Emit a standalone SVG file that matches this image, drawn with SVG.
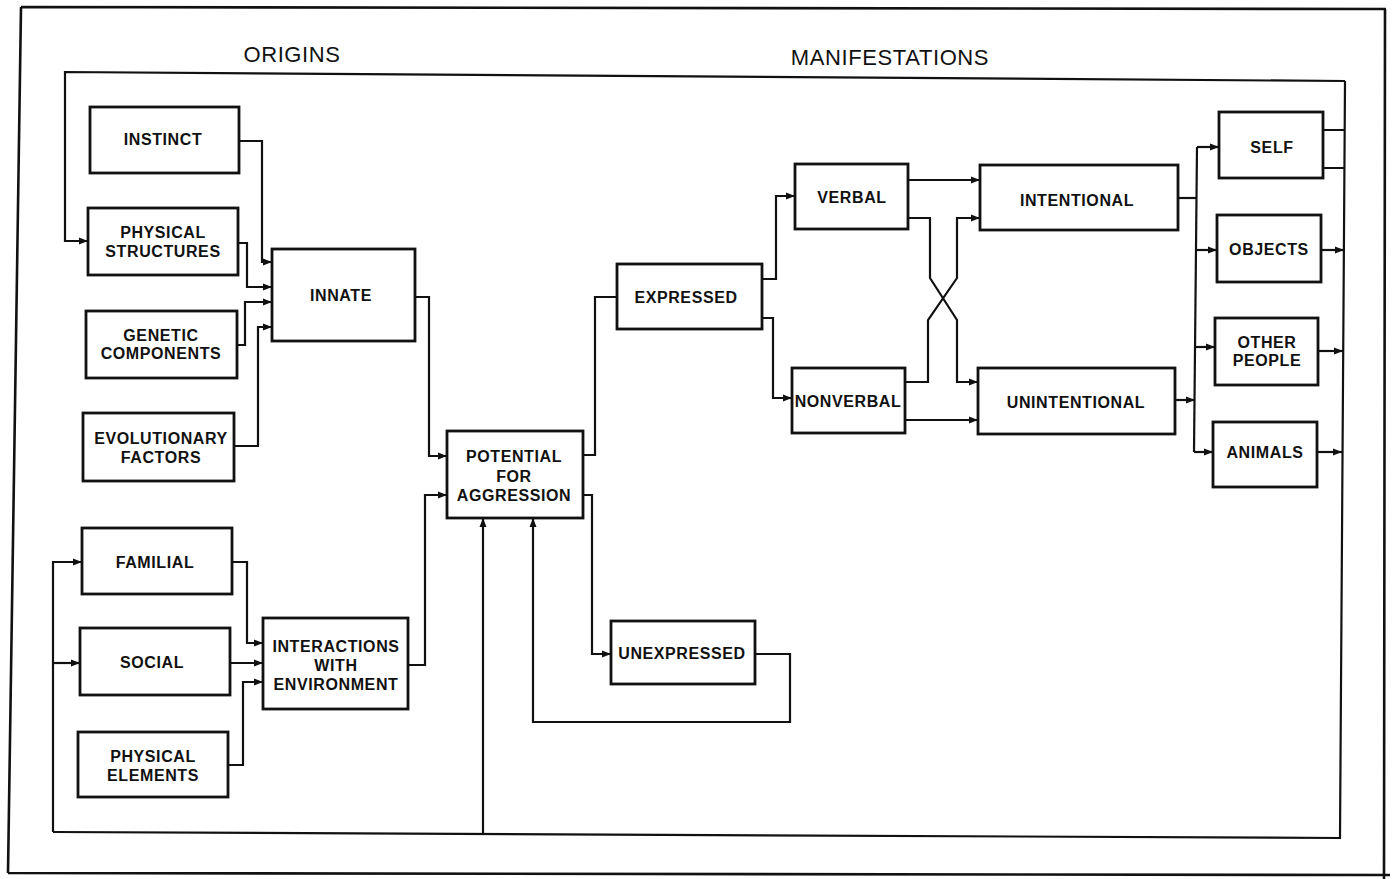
<svg xmlns="http://www.w3.org/2000/svg" width="1392" height="879" viewBox="0 0 1392 879">
<style>
.box{fill:#fff;stroke:#111;stroke-width:2.8}
.lbl{font-family:"Liberation Sans",Arial,sans-serif;font-weight:bold;font-size:16px;letter-spacing:0.6px;fill:#111;text-anchor:middle}
.hdr{font-family:"Liberation Sans",Arial,sans-serif;font-size:22px;letter-spacing:0.6px;fill:#111;text-anchor:middle}
.ln{fill:none;stroke:#111;stroke-width:2.2;stroke-linejoin:miter}
.ar{marker-end:url(#ah)}
.frame{fill:none;stroke:#111;stroke-width:2.6}
</style>
<defs>
<marker id="ah" markerUnits="userSpaceOnUse" markerWidth="10" markerHeight="8" refX="9" refY="4" orient="auto">
<path d="M0,0.5 L9,4 L0,7.5 z" fill="#111"/>
</marker>
</defs>
<rect width="1392" height="879" fill="#fff"/>
<g id="frame">
<path class="frame" d="M21,7 L1386,9 M1385,9 L1384,879 M21,7 L8,873 M8,873 L1390,875"/>
</g>
<g id="headers">
<text class="hdr" x="292" y="62">ORIGINS</text>
<text class="hdr" x="890" y="65">MANIFESTATIONS</text>
</g>
<g id="connectors">
<path class="ln ar" d="M238,141 H262 V262 H272"/>
<path class="ln ar" d="M238,243 H247 V287 H272"/>
<path class="ln ar" d="M237,345 H245 V302 H272"/>
<path class="ln ar" d="M234,446 H258 V327 H272"/>
<path class="ln ar" d="M415,297 H429 V456 H447"/>
<path class="ln ar" d="M408,665 H425 V495 H447"/>
<path class="ln ar" d="M232,562 H247 V643 H263"/>
<path class="ln ar" d="M230,663 H263"/>
<path class="ln ar" d="M228,765 H243 V682 H263"/>
<path class="ln ar" d="M1345,81 L65,72 V241 H88"/>
<path class="ln" d="M1345,81 L1340,838 L53,832"/>
<path class="ln ar" d="M53,832 V562 H82"/>
<path class="ln ar" d="M53,663 H80"/>
<path class="ln ar" d="M483,835 V518"/>
<path class="ln" d="M583,455 H595 V297 H617"/>
<path class="ln ar" d="M583,495 H592 V654 H611"/>
<path class="ln ar" d="M755,654 H790 V722 H533 V518"/>
<path class="ln ar" d="M762,279 H776 V196 H795"/>
<path class="ln ar" d="M762,318 H773 V398 H792"/>
<path class="ln ar" d="M908,180 H980"/>
<path class="ln ar" d="M908,218 H930 V278 L957,320 V382 H978"/>
<path class="ln ar" d="M905,382 H928 V320 L957,278 V218 H980"/>
<path class="ln ar" d="M905,420 H978"/>
<path class="ln" d="M1178,198 H1197"/>
<path class="ln ar" d="M1175,400 H1195"/>
<path class="ln" d="M1197,147 L1194,452"/>
<path class="ln ar" d="M1197,147 H1219"/>
<path class="ln ar" d="M1196,250 H1217"/>
<path class="ln ar" d="M1195,347 H1215"/>
<path class="ln ar" d="M1194,452 H1213"/>
<path class="ln" d="M1323,130 H1345 M1323,168 H1345"/>
<path class="ln ar" d="M1321,250 H1344"/>
<path class="ln ar" d="M1318,351 H1343"/>
<path class="ln ar" d="M1317,452 H1342"/>
</g>
<g id="instinct"><rect class="box" x="90" y="107" width="149" height="66"/><text class="lbl" x="163" y="145">INSTINCT</text></g>
<g id="physical-structures"><rect class="box" x="88" y="208" width="150" height="67"/><text class="lbl" x="163" y="238">PHYSICAL</text><text class="lbl" x="163" y="257">STRUCTURES</text></g>
<g id="innate"><rect class="box" x="272" y="249" width="143" height="92"/><text class="lbl" x="341" y="301">INNATE</text></g>
<g id="genetic-components"><rect class="box" x="86" y="311" width="151" height="67"/><text class="lbl" x="161" y="341">GENETIC</text><text class="lbl" x="161" y="359">COMPONENTS</text></g>
<g id="evolutionary-factors"><rect class="box" x="83" y="413" width="151" height="68"/><text class="lbl" x="161" y="444">EVOLUTIONARY</text><text class="lbl" x="161" y="463">FACTORS</text></g>
<g id="familial"><rect class="box" x="82" y="528" width="150" height="66"/><text class="lbl" x="155" y="568">FAMILIAL</text></g>
<g id="social"><rect class="box" x="80" y="628" width="150" height="67"/><text class="lbl" x="152" y="668">SOCIAL</text></g>
<g id="physical-elements"><rect class="box" x="78" y="732" width="150" height="65"/><text class="lbl" x="153" y="762">PHYSICAL</text><text class="lbl" x="153" y="781">ELEMENTS</text></g>
<g id="interactions"><rect class="box" x="263" y="618" width="145" height="91"/><text class="lbl" x="336" y="652">INTERACTIONS</text><text class="lbl" x="336" y="671">WITH</text><text class="lbl" x="336" y="690">ENVIRONMENT</text></g>
<g id="potential"><rect class="box" x="447" y="431" width="136" height="87"/><text class="lbl" x="514" y="462">POTENTIAL</text><text class="lbl" x="514" y="482">FOR</text><text class="lbl" x="514" y="501">AGGRESSION</text></g>
<g id="expressed"><rect class="box" x="617" y="264" width="145" height="65"/><text class="lbl" x="686" y="303">EXPRESSED</text></g>
<g id="unexpressed"><rect class="box" x="611" y="621" width="144" height="63"/><text class="lbl" x="682" y="659">UNEXPRESSED</text></g>
<g id="verbal"><rect class="box" x="795" y="164" width="113" height="65"/><text class="lbl" x="852" y="203">VERBAL</text></g>
<g id="nonverbal"><rect class="box" x="792" y="368" width="113" height="65"/><text class="lbl" x="848" y="407">NONVERBAL</text></g>
<g id="intentional"><rect class="box" x="980" y="165" width="198" height="65"/><text class="lbl" x="1077" y="206">INTENTIONAL</text></g>
<g id="unintentional"><rect class="box" x="978" y="368" width="197" height="66"/><text class="lbl" x="1076" y="408">UNINTENTIONAL</text></g>
<g id="self"><rect class="box" x="1219" y="112" width="104" height="66"/><text class="lbl" x="1272" y="153">SELF</text></g>
<g id="objects"><rect class="box" x="1217" y="215" width="104" height="67"/><text class="lbl" x="1269" y="255">OBJECTS</text></g>
<g id="other-people"><rect class="box" x="1215" y="318" width="103" height="67"/><text class="lbl" x="1267" y="348">OTHER</text><text class="lbl" x="1267" y="366">PEOPLE</text></g>
<g id="animals"><rect class="box" x="1213" y="422" width="104" height="65"/><text class="lbl" x="1265" y="458">ANIMALS</text></g>
</svg>
